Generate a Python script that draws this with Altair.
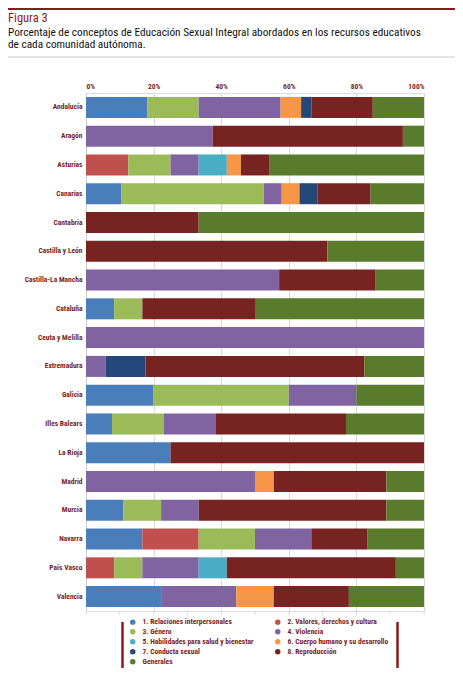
import altair as alt
import pandas as pd

regions = ["Andalucía", "Aragón", "Asturias", "Canarias", "Cantabria", "Castilla y León",
           "Castilla-La Mancha", "Cataluña", "Ceuta y Melilla", "Extremadura", "Galicia",
           "Illes Balears", "La Rioja", "Madrid", "Murcia", "Navarra", "País Vasco", "Valencia"]

categories = ["1. Relaciones interpersonales", "2. Valores, derechos y cultura", "3. Género",
              "4. Violencia", "5. Habilidades para salud y bienestar", "6. Cuerpo humano y su desarrollo",
              "7. Conducta sexual", "8. Reproducción", "Generales"]

colors = ["#4A7EBB", "#C0504D", "#9BBB59", "#8064A2", "#4BACC6", "#F79646", "#24487A", "#772322", "#5A7A2C"]

# counts of concepts per region (stacked and normalised to 100 %)
relaciones   = [6, 0, 0, 2, 0, 0, 0, 1, 0, 0, 1, 1, 1, 0, 1, 1, 0, 2]
valores      = [0, 0, 3, 0, 0, 0, 0, 0, 0, 0, 0, 0, 0, 0, 0, 1, 1, 0]
genero       = [5, 0, 3, 8, 0, 0, 0, 1, 0, 0, 2, 2, 0, 0, 1, 1, 1, 0]
violencia    = [8, 6, 2, 1, 0, 0, 4, 0, 1, 1, 1, 2, 0, 9, 1, 1, 2, 2]
habilidades  = [0, 0, 2, 0, 0, 0, 0, 0, 0, 0, 0, 0, 0, 0, 0, 0, 1, 0]
cuerpo       = [2, 0, 1, 1, 0, 0, 0, 0, 0, 0, 0, 0, 0, 1, 0, 0, 0, 1]
conducta     = [1, 0, 0, 1, 0, 0, 0, 0, 0, 2, 0, 0, 0, 0, 0, 0, 0, 0]
reproduccion = [6, 9, 2, 3, 1, 5, 2, 4, 0, 11, 0, 5, 3, 6, 5, 1, 6, 2]
generales    = [5, 1, 11, 3, 2, 2, 1, 6, 0, 3, 1, 3, 0, 2, 1, 1, 1, 2]

series = [relaciones, valores, genero, violencia, habilidades, cuerpo, conducta, reproduccion, generales]

tick_values = [i / 10 for i in range(11)]

title_tag = "Figura 3"
title_lines = ["Porcentaje de conceptos de Educación Sexual Integral abordados en los recursos educativos",
               "de cada comunidad autónoma."]

rows = []
for ci, (cat, vals) in enumerate(zip(categories, series)):
    for r, v in zip(regions, vals):
        if v > 0:
            rows.append({"region": r, "category": cat, "order": ci, "value": v})
df = pd.DataFrame(rows)

# legend is filled column by column: reorder so it reads row by row like the reference
legend_order = [0, 2, 4, 6, 8, 1, 3, 5, 7]
legend_domain = [categories[i] for i in legend_order]
legend_range = [colors[i] for i in legend_order]

FONT = "Roboto Condensed, Liberation Sans Narrow, Roboto, sans-serif"
DARKRED = "#7B1E1E"

W, H = 338, 518

bars = alt.Chart(df).mark_bar().encode(
    x=alt.X("value:Q", stack="normalize",
            scale=alt.Scale(domain=[0, 1]),
            axis=alt.Axis(orient="top", values=tick_values, format=".0%", title=None,
                          labelFont=FONT, labelFontSize=7.5, labelColor=DARKRED, labelFontWeight="bold",
                          ticks=False, domain=False, grid=True, gridColor="#D9D9D9",
                          labelPadding=3)),
    y=alt.Y("region:N", sort=regions, title=None,
            scale=alt.Scale(paddingInner=0.27, paddingOuter=0.135),
            axis=alt.Axis(labelFont=FONT, labelFontSize=7.5, labelColor=DARKRED, labelFontWeight="bold",
                          ticks=False, domainColor="#D0D0D0", labelPadding=4, labelLimit=80)),
    color=alt.Color("category:N", scale=alt.Scale(domain=legend_domain, range=legend_range),
                    legend=alt.Legend(title=None, orient="none", legendX=43, legendY=525,
                                      columns=2, symbolType="circle", symbolSize=30,
                                      symbolStrokeWidth=0, labelFont=FONT, labelFontSize=7.5,
                                      labelFontWeight="bold", labelColor=DARKRED,
                                      labelOffset=6, columnPadding=20, rowPadding=1,
                                      labelLimit=300)),
    order=alt.Order("order:Q"),
)

tick_df = pd.DataFrame({"t": tick_values})
bottom_ticks = alt.Chart(tick_df).mark_rule(color="#D9D9D9").encode(
    x=alt.X("t:Q", scale=alt.Scale(domain=[0, 1])),
    y=alt.value(H), y2=alt.value(H + 4),
)

one = pd.DataFrame({"k": [0]})
top_rule = alt.Chart(one).mark_rule(color="#8B1A1A", strokeWidth=2).encode(
    x=alt.value(-78), x2=alt.value(370), y=alt.value(-84))
sep_rule = alt.Chart(one).mark_rule(color="#C8C8C8", strokeWidth=1).encode(
    x=alt.value(-78), x2=alt.value(370), y=alt.value(-36))
leg_left = alt.Chart(one).mark_rule(color="#8B1A1A", strokeWidth=2.5).encode(
    x=alt.value(36.5), y=alt.value(529), y2=alt.value(575))
leg_right = alt.Chart(one).mark_rule(color="#8B1A1A", strokeWidth=2.5).encode(
    x=alt.value(311.5), y=alt.value(529), y2=alt.value(575))

tag = alt.Chart(pd.DataFrame({"t": [title_tag]})).mark_text(
    align="left", baseline="alphabetic", font=FONT, fontSize=12.5, color="#8B1A1A"
).encode(text="t:N", x=alt.value(-78), y=alt.value(-71))
line1 = alt.Chart(pd.DataFrame({"t": [title_lines[0]]})).mark_text(
    align="left", baseline="alphabetic", font=FONT, fontSize=11.3, color="#111111"
).encode(text="t:N", x=alt.value(-78), y=alt.value(-57))
line2 = alt.Chart(pd.DataFrame({"t": [title_lines[1]]})).mark_text(
    align="left", baseline="alphabetic", font=FONT, fontSize=11.3, color="#111111"
).encode(text="t:N", x=alt.value(-78), y=alt.value(-45.5))

chart = alt.layer(bottom_ticks, bars, top_rule, sep_rule, leg_left, leg_right, tag, line1, line2).resolve_scale(
    x="shared"
).properties(
    width=W, height=H,
    autosize=alt.AutoSizeParams(type="none"),
    padding={"left": 78, "top": 85, "right": 31, "bottom": 57},
).configure_view(stroke=None).configure(background="white")

chart.save("out.html", embed_options={"renderer": "svg", "actions": False})
